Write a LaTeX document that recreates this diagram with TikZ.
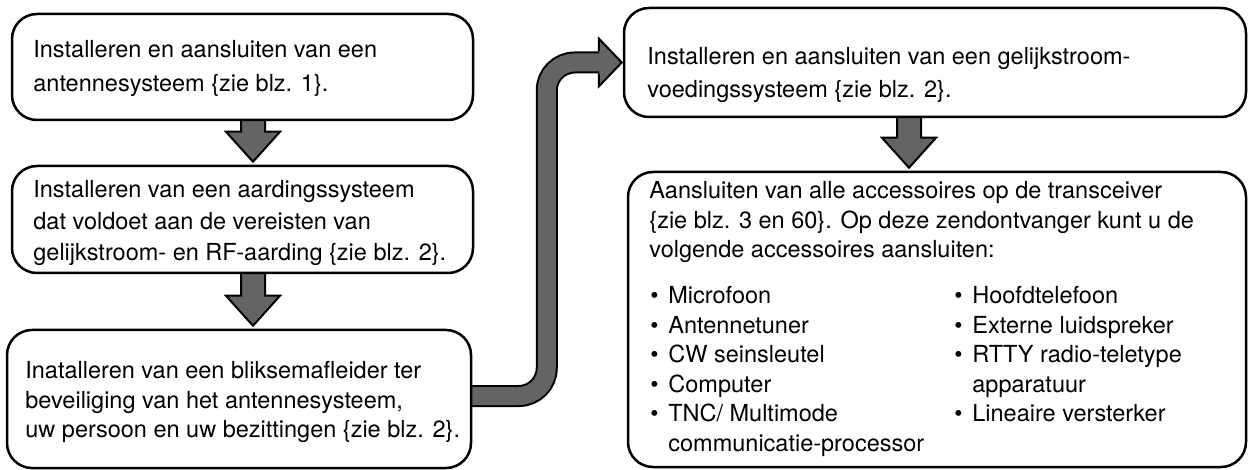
\documentclass[tikz,border=0pt]{standalone}
\usepackage{fontspec}
\setmainfont{TeX Gyre Heros}
\usetikzlibrary{calc,backgrounds}
\definecolor{arrowgray}{RGB}{100,100,100}
\newcommand{\listbullet}{\makebox[9pt][l]{\textbullet}}
\newcommand{\listindent}{\hspace*{9pt}}
\begin{document}
\begin{tikzpicture}
[x=0.5pt, y=-0.5pt,
  boxdecorate/.style={draw, line width=1.25pt, rounded corners=12.5pt, fill=white, inner sep=0pt},%
  textdecorate/.style={anchor=north west, inner sep=0pt, align=left, font=\fontsize{11.75pt}{#1}\selectfont},%
  textdecorate/.default=14.75pt,%
  arrowdecorate/.style={draw=black, line width=1pt, fill=arrowgray, line join=miter},%
  shaftdecorate/.style={draw=black, line width=1pt, double=arrowgray, double distance=9pt, rounded corners=14pt}]
\useasboundingbox (0,0) rectangle (1248,470);
%% boxes
\foreach \nodename/\x/\y/\w/\h in {
  b1/242.5/67/461/106, b2/242.5/219.5/461/107, b3/239/399/464/138,
  b4/935/62.5/622/109, b5/937/319.5/618/295}
{
  \node (\nodename) at (\x,\y) [boxdecorate, minimum width=\w*0.5pt, minimum height=\h*0.5pt] {};
}
%% texts
\node (t1) at (33,40) [textdecorate=17pt] {Installeren en aansluiten van een\\antennesysteem \{zie blz. 1\}.};
\node (t2) at (33,180) [textdecorate=15.75pt] {Installeren van een aardingssysteem\\dat voldoet aan de vereisten van\\gelijkstroom- en RF-aarding \{zie blz. 2\}.};
\node (t3) at (25,361) [textdecorate] {Inatalleren van een bliksemafleider ter\\beveiliging van het antennesysteem,\\uw persoon en uw bezittingen \{zie blz. 2\}.};
\node (t4) at (647,47) [textdecorate=16.5pt] {Installeren en aansluiten van een gelijkstroom-\\voedingssysteem \{zie blz. 2\}.};
\node (t5) at (649,181) [textdecorate] {Aansluiten van alle accessoires op de transceiver\\\{zie blz. 3 en 60\}. Op deze zendontvanger kunt u de\\volgende accessoires aansluiten:};
\node (t6) at (650,286) [textdecorate] {\listbullet Microfoon\\\listbullet Antennetuner\\\listbullet CW seinsleutel\\\listbullet Computer\\\listbullet TNC/ Multimode\\\listindent communicatie-processor};
\node (t7) at (954,286) [textdecorate] {\listbullet Hoofdtelefoon\\\listbullet Externe luidspreker\\\listbullet RTTY radio-teletype\\\listindent apparatuur\\\listbullet Lineaire versterker};
%% arrows
\coordinate (c1) at (253,0);
\coordinate (c2) at (909,0);
\begin{scope}[on background layer]
\foreach \fromnode/\tonode/\col in {b1/b2/c1, b2/b3/c1, b4/b5/c2} {
  \path[arrowdecorate] ($(\col |- \fromnode.south)+(-12,-2)$) -- ($(\col |- \tonode.north)+(-12,-33)$)
    -- ++(-15,0) -- ($(\col |- \tonode.north)+(0,-3)$) -- ++(27,-30) -- ++(-15,0)
    -- ($(\col |- \fromnode.south)+(12,-2)$);
}
\draw[shaftdecorate] ($(b3.east)+(-3,-3)$) -| ($(b4.west)+(-76,0)$) -- ($(b4.west)+(-24,0)$);
\path[arrowdecorate] ($(b4.west)+(-24,-11)$) -- ++(0,-13) -- ($(b4.west)+(-1,0)$)
  -- ($(b4.west)+(-24,24)$) -- ++(0,-13);
\end{scope}
\end{tikzpicture}
\end{document}
